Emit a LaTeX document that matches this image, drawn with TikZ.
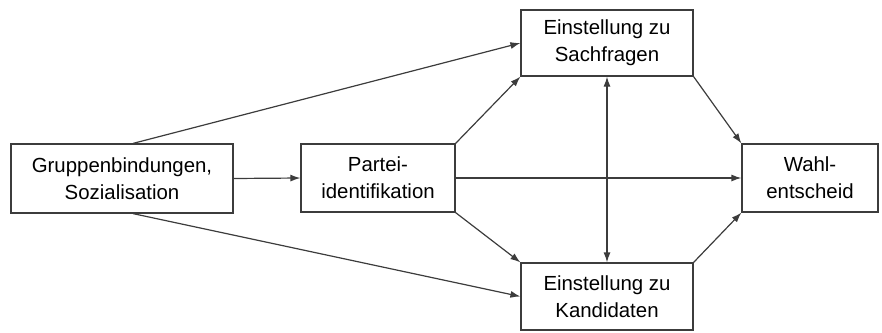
\documentclass[tikz,border=0pt]{standalone}
\usepackage{fontspec}
\setmainfont{Liberation Sans}
\usetikzlibrary{arrows.meta}
\definecolor{linecolor}{RGB}{60, 60, 60}

\begin{document}
\begin{tikzpicture}[x=0.5pt, y=-0.5pt,
        box/.style={draw=linecolor, line width=0.6pt, align=center, inner sep=0pt,
            font=\fontsize{10.2}{13.5}\selectfont},
        pfeil/.style={-{Latex[length=5pt,width=3.5pt]}, linecolor, line width=0.6pt}]
        \useasboundingbox (0,0) rectangle (882,332);
        % Kästen
        \node[box, minimum width=111pt, minimum height=34.5pt] (grp) at (122,178.5) {Gruppenbindungen,\\Sozialisation};
        \node[box, minimum width=77pt, minimum height=34pt] (pid) at (378,178) {Partei-\\identifikation};
        \node[box, minimum width=86pt, minimum height=33pt] (sach) at (607,43) {Einstellung zu\\Sachfragen};
        \node[box, minimum width=86pt, minimum height=33.5pt] (kand) at (607,296.5) {Einstellung zu\\Kandidaten};
        \node[box, minimum width=68pt, minimum height=34pt] (wahl) at (810,178) {Wahl-\\entscheid};
        % Pfeile
        \draw[pfeil] ([xshift=5.5pt]grp.north) -- (sach.west);
        \draw[pfeil] ([xshift=5.5pt]grp.south) -- (kand.west);
        \draw[pfeil] (grp.east) -- (pid.west);
        \draw[pfeil] (pid.north east) -- (sach.south west);
        \draw[pfeil] (pid.south east) -- (kand.north west);
        \draw[pfeil] (pid.east) -- (wahl.west);
        \draw[pfeil] (sach.south east) -- (wahl.north west);
        \draw[pfeil] (kand.north east) -- (wahl.south west);
        \draw[pfeil, {Latex[length=5pt,width=3.5pt]}-{Latex[length=5pt,width=3.5pt]}] (sach.south) -- (kand.north);
    \end{tikzpicture}
\end{document}
